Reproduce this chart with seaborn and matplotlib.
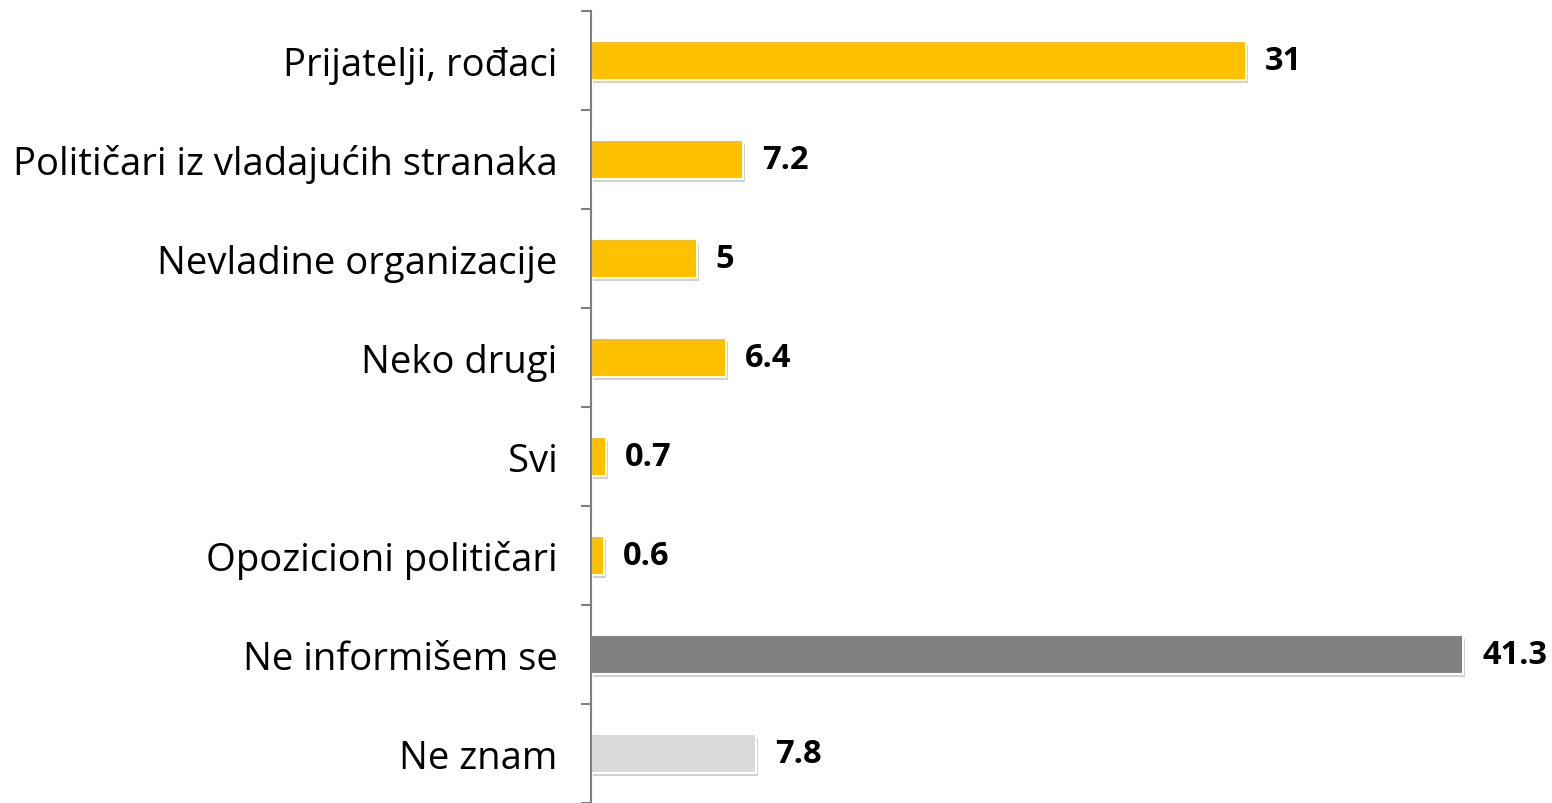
import pandas as pd
import seaborn as sns
import matplotlib.pyplot as plt
import matplotlib.patheffects as pe

categories = ["Prijatelji, rođaci", "Političari iz vladajućih stranaka", "Nevladine organizacije",
              "Neko drugi", "Svi", "Opozicioni političari", "Ne informišem se", "Ne znam"]
values = [31, 7.2, 5, 6.4, 0.7, 0.6, 41.3, 7.8]
value_labels = ["31", "7.2", "5", "6.4", "0.7", "0.6", "41.3", "7.8"]
bar_colors = ["#FFC000"] * 6 + ["#808080", "#D9D9D9"]

df = pd.DataFrame({"category": categories, "value": values})

sns.set_style("white")
plt.rcParams["font.family"] = ["Open Sans", "DejaVu Sans"]

fig = plt.figure(figsize=(15.52, 8.04), dpi=100)
ax = fig.add_axes([591 / 1552, 0, 1 - 591 / 1552, 1 - 12 / 804])

sns.barplot(data=df, x="value", y="category", hue="category", palette=bar_colors,
            saturation=1, legend=False, width=0.39, ax=ax, edgecolor="white", linewidth=1.5)

# soft drop shadow like the office chart
for bar in ax.patches:
    bar.set_path_effects([pe.SimplePatchShadow(offset=(1.5, -2.5), shadow_rgbFace="#000000", alpha=0.18),
                          pe.Normal()])

for i, (v, lab) in enumerate(zip(values, value_labels)):
    ax.text(v + 0.9, i, lab, va="center", ha="left", fontsize=23.5, fontweight="bold", color="black")

ax.set_xlim(0, 45.5)
ax.set_ylim(7.5, -0.5)
ax.set_xlabel("")
ax.set_ylabel("")
ax.set_xticks([])

# ticks sit on category boundaries, labels in the middle
ax.set_yticks([i - 0.5 for i in range(len(categories) + 1)], minor=True)
ax.tick_params(axis="y", which="minor", length=7, width=1.5, color="#808080", left=True)
ax.tick_params(axis="y", which="major", length=0, labelsize=27.5, pad=24, labelcolor="black")
ax.set_yticks(range(len(categories)))
ax.set_yticklabels(categories)

for side in ["top", "right", "bottom"]:
    ax.spines[side].set_visible(False)
ax.spines["left"].set_color("#808080")
ax.spines["left"].set_linewidth(1.5)

fig.savefig("out.png", dpi=100)
